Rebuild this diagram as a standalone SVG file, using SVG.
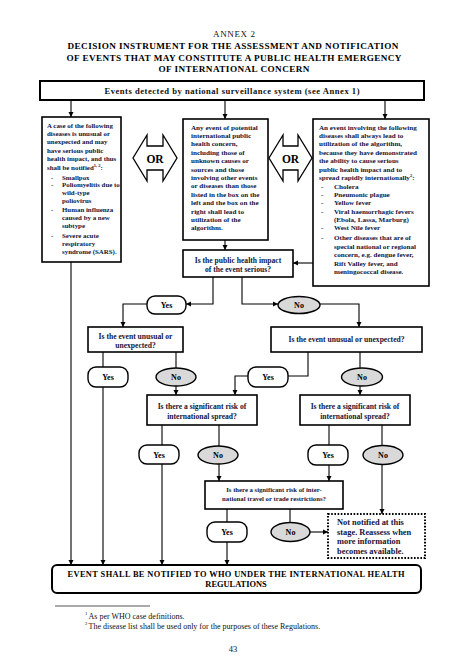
<svg xmlns="http://www.w3.org/2000/svg" width="466" height="666" viewBox="0 0 466 666">
<style>
text{font-family:"Liberation Serif","Times New Roman",serif;fill:#111}
.b{font-weight:bold}
.t{font-size:9.2px;font-weight:bold;text-anchor:middle;fill:#000}
.bx{font-size:7.1px;font-weight:bold;fill:#14143a}
.bl{font-size:6.9px}
.q{font-size:7.6px;font-weight:bold;text-anchor:middle;fill:#14143a}
.yn{font-size:8px;font-weight:bold;text-anchor:middle;fill:#000}
.box{fill:#fff;stroke:#000;stroke-width:1.6}
.pill{fill:#fff;stroke:#000;stroke-width:1.4}
.no{fill:#d9d9d9;stroke:#000;stroke-width:1.4}
.c{fill:none;stroke:#000;stroke-width:1.1}
.a{marker-end:url(#ah)}
</style>
<defs>
<marker id="ah" markerWidth="6" markerHeight="6" refX="5" refY="3" orient="auto" markerUnits="userSpaceOnUse">
<path d="M0,0.5 L5,3 L0,5.5 Z" fill="#000"/>
</marker>
</defs>
<rect width="466" height="666" fill="#fff"/>

<g id="title">
<text x="234" y="37" text-anchor="middle" style="font-size:9px" textLength="42">ANNEX 2</text>
<text x="233" y="49" class="t" textLength="331">DECISION INSTRUMENT FOR THE ASSESSMENT AND NOTIFICATION</text>
<text x="234" y="61" class="t" textLength="335">OF EVENTS THAT MAY CONSTITUTE A PUBLIC HEALTH EMERGENCY</text>
<text x="234" y="72" class="t" textLength="151">OF INTERNATIONAL CONCERN</text>
</g>

<g id="connectors">
<path class="c a" d="M71,100 V117"/>
<path class="c a" d="M225,100 V119"/>
<path class="c a" d="M385,100 V119"/>
<path class="c a" d="M71,262 V565"/>
<path class="c a" d="M225,240 V250"/>
<path class="c a" d="M313,263 H293"/>
<path class="c a" d="M213,277 V304 H186"/>
<path class="c a" d="M242,277 V304 H278"/>
<path class="c a" d="M147,304 H123 V327"/>
<path class="c a" d="M320,304 H359 V327"/>
<path class="c" d="M103,352 V367"/>
<path class="c a" d="M103,387 V565"/>
<path class="c" d="M176,352 V368"/>
<path class="c a" d="M176,386 V395"/>
<path class="c" d="M308,352 V376 H288"/>
<path class="c a" d="M248,376 H235 V395"/>
<path class="c" d="M360,352 V369"/>
<path class="c a" d="M360,386 V395"/>
<path class="c" d="M162,425 V445"/>
<path class="c a" d="M162,464 V565"/>
<path class="c" d="M219,425 V446"/>
<path class="c a" d="M219,464 V481"/>
<path class="c" d="M329,425 V445"/>
<path class="c a" d="M329,465 V481"/>
<path class="c" d="M382,425 V446"/>
<path class="c a" d="M382,464 V514"/>
<path class="c" d="M227,509 V522"/>
<path class="c a" d="M227,542 V565"/>
<path class="c" d="M290,509 V523"/>
<path class="c a" d="M310,532 H328"/>
</g>

<g id="top-box">
<rect x="40" y="81" width="384" height="19" fill="#fff" stroke="#000" stroke-width="2"/>
<text x="232" y="93.5" class="b" text-anchor="middle" style="font-size:8.6px" textLength="255">Events detected by national surveillance system (see Annex 1)</text>
</g>

<g id="left-box">
<rect x="42" y="117" width="79" height="145" class="box"/>
<text class="bx bl">
<tspan x="47" y="127.5">A case of the following</tspan>
<tspan x="47" y="136">diseases is unusual or</tspan>
<tspan x="47" y="144.3">unexpected and may</tspan>
<tspan x="47" y="152.6">have serious public</tspan>
<tspan x="47" y="160.9">health impact, and thus</tspan>
<tspan x="47" y="169.5">shall be notified</tspan><tspan font-size="4.5" dy="-3">1, 2</tspan><tspan dy="3">:</tspan>
</text>
<text class="bx bl">
<tspan x="51" y="179.5">-</tspan><tspan x="62" y="179.5">Smallpox</tspan>
<tspan x="51" y="186.8">-</tspan><tspan x="62" y="186.8">Poliomyelitis due to</tspan>
<tspan x="62" y="194.8">wild-type</tspan>
<tspan x="62" y="202.8">poliovirus</tspan>
<tspan x="51" y="211.6">-</tspan><tspan x="62" y="211.6">Human influenza</tspan>
<tspan x="62" y="219.6">caused by a new</tspan>
<tspan x="62" y="227.6">subtype</tspan>
<tspan x="51" y="237.6">-</tspan><tspan x="62" y="237.6">Severe acute</tspan>
<tspan x="62" y="245.6">respiratory</tspan>
<tspan x="62" y="254.4">syndrome (SARS).</tspan>
</text>
</g>

<g id="or-left">
<path d="M133,158 L147,135 L147,146 L163,146 L163,135 L177,158 L163,181 L163,170 L147,170 L147,181 Z" fill="#fff" stroke="#000" stroke-width="1.3"/>
<text x="155" y="162.5" class="b" text-anchor="middle" style="font-size:11.5px;fill:#000">OR</text>
</g>

<g id="center-box">
<rect x="183" y="119" width="85" height="121" class="box"/>
<text class="bx">
<tspan x="191" y="129.5">Any event of potential</tspan>
<tspan x="191" y="138">international public</tspan>
<tspan x="191" y="146.4">health concern,</tspan>
<tspan x="191" y="154.8">including those of</tspan>
<tspan x="191" y="163.2">unknown causes or</tspan>
<tspan x="191" y="171.6">sources and those</tspan>
<tspan x="191" y="180">involving other events</tspan>
<tspan x="191" y="188.4">or diseases than those</tspan>
<tspan x="191" y="196.8">listed in the box on the</tspan>
<tspan x="191" y="205.2">left and the box on the</tspan>
<tspan x="191" y="213.6">right shall lead to</tspan>
<tspan x="191" y="222">utilization of the</tspan>
<tspan x="191" y="230.4">algorithm.</tspan>
</text>
</g>

<g id="or-right">
<path d="M269,158 L283,135 L283,146 L298,146 L298,135 L312,158 L298,181 L298,170 L283,170 L283,181 Z" fill="#fff" stroke="#000" stroke-width="1.3"/>
<text x="290.5" y="162.5" class="b" text-anchor="middle" style="font-size:11.5px;fill:#000">OR</text>
</g>

<g id="right-box">
<rect x="313" y="119" width="116" height="167" class="box"/>
<text class="bx">
<tspan x="319" y="129.5">An event involving the following</tspan>
<tspan x="319" y="138">diseases shall always lead to</tspan>
<tspan x="319" y="146.4">utilization of the algorithm,</tspan>
<tspan x="319" y="154.8">because they have demonstrated</tspan>
<tspan x="319" y="163.2">the ability to cause serious</tspan>
<tspan x="319" y="171.6">public health impact and to</tspan>
<tspan x="319" y="180">spread rapidly internationally</tspan><tspan font-size="4.5" dy="-3">2</tspan><tspan dy="3">:</tspan>
</text>
<text class="bx">
<tspan x="321" y="188.5">-</tspan><tspan x="334" y="188.5">Cholera</tspan>
<tspan x="321" y="196.8">-</tspan><tspan x="334" y="196.8">Pneumonic plague</tspan>
<tspan x="321" y="205.2">-</tspan><tspan x="334" y="205.2">Yellow fever</tspan>
<tspan x="321" y="213.6">-</tspan><tspan x="334" y="213.6">Viral haemorrhagic fevers</tspan>
<tspan x="334" y="222">(Ebola, Lassa, Marburg)</tspan>
<tspan x="321" y="230.4">-</tspan><tspan x="334" y="230.4">West Nile fever</tspan>
<tspan x="321" y="240.4">-</tspan><tspan x="334" y="240.4">Other diseases that are of</tspan>
<tspan x="334" y="248.8">special national or regional</tspan>
<tspan x="334" y="257.2">concern, e.g. dengue fever,</tspan>
<tspan x="334" y="265.6">Rift Valley fever, and</tspan>
<tspan x="334" y="274.4">meningococcal disease.</tspan>
</text>
</g>

<g id="q-serious">
<rect x="183" y="250" width="110" height="27" class="box"/>
<text class="q"><tspan x="238" y="262.5">Is the public health impact</tspan><tspan x="238" y="271.5">of the event serious?</tspan></text>
</g>

<g id="yes-1">
<rect x="147" y="296" width="39" height="18" rx="8" class="pill"/>
<text x="166.5" y="308" class="yn">Yes</text>
</g>
<g id="no-1">
<ellipse cx="299" cy="305" rx="21" ry="8.5" class="no"/>
<text x="299" y="308" class="yn">No</text>
</g>

<g id="q-unusual-left">
<rect x="88" y="327" width="95" height="25" class="box"/>
<text class="q"><tspan x="135.5" y="339">Is the event unusual or</tspan><tspan x="135.5" y="348">unexpected?</tspan></text>
</g>
<g id="q-unusual-right">
<rect x="271" y="327" width="151" height="25" class="box"/>
<text x="346.5" y="342" class="q">Is the event unusual or unexpected?</text>
</g>

<g id="yes-2a">
<rect x="88" y="367" width="40" height="20" rx="8" class="pill"/>
<text x="108" y="380" class="yn">Yes</text>
</g>
<g id="no-2a">
<ellipse cx="176" cy="377" rx="20" ry="9" class="no"/>
<text x="176" y="380" class="yn">No</text>
</g>
<g id="yes-2b">
<rect x="248" y="367" width="40" height="20" rx="8" class="pill"/>
<text x="268" y="380" class="yn">Yes</text>
</g>
<g id="no-2b">
<ellipse cx="362" cy="377" rx="20.5" ry="9" class="no"/>
<text x="362" y="380" class="yn">No</text>
</g>

<g id="q-spread-left">
<rect x="147" y="395" width="110" height="30" class="box"/>
<text class="q"><tspan x="202" y="408.5">Is there a significant risk of</tspan><tspan x="202" y="418.5">international spread?</tspan></text>
</g>
<g id="q-spread-right">
<rect x="300" y="395" width="110" height="30" class="box"/>
<text class="q"><tspan x="355" y="408.5">Is there a significant risk of</tspan><tspan x="355" y="418.5">international spread?</tspan></text>
</g>

<g id="yes-3a">
<rect x="139" y="445" width="40" height="19" rx="8" class="pill"/>
<text x="159" y="457.5" class="yn">Yes</text>
</g>
<g id="no-3a">
<ellipse cx="218" cy="455" rx="20" ry="9" class="no"/>
<text x="218" y="458" class="yn">No</text>
</g>
<g id="yes-3b">
<rect x="308" y="445" width="40" height="20" rx="8" class="pill"/>
<text x="328" y="458" class="yn">Yes</text>
</g>
<g id="no-3b">
<ellipse cx="383" cy="455" rx="20" ry="9.5" class="no"/>
<text x="383" y="458" class="yn">No</text>
</g>

<g id="q-travel">
<rect x="205" y="481" width="138" height="28" class="box"/>
<text class="q" style="font-size:6.7px"><tspan x="274" y="492">Is there a significant risk of inter-</tspan><tspan x="274" y="501">national travel or trade restrictions?</tspan></text>
</g>

<g id="yes-4">
<rect x="207" y="522" width="40" height="20" rx="8" class="pill"/>
<text x="227" y="535" class="yn">Yes</text>
</g>
<g id="no-4">
<ellipse cx="290.5" cy="532" rx="19.5" ry="9.5" class="no"/>
<text x="290.5" y="535" class="yn">No</text>
</g>

<g id="not-notified">
<rect x="328" y="514" width="97" height="44" fill="#fff" stroke="#000" stroke-width="2" stroke-dasharray="1.6,1.6"/>
<text class="b" style="font-size:8.4px;fill:#14143a"><tspan x="337" y="525">Not notified at this</tspan><tspan x="337" y="534.5">stage. Reassess when</tspan><tspan x="337" y="544">more information</tspan><tspan x="337" y="553.5">becomes available.</tspan></text>
</g>

<g id="notify-box">
<rect x="52" y="565" width="369" height="28" rx="5" fill="#fff" stroke="#000" stroke-width="2"/>
<text class="b" text-anchor="middle" style="font-size:8.4px;fill:#000"><tspan x="236" y="576.5" textLength="337">EVENT SHALL BE NOTIFIED TO WHO UNDER THE INTERNATIONAL HEALTH</tspan><tspan x="236" y="587">REGULATIONS</tspan></text>
</g>

<g id="footnotes">
<line x1="55" y1="606" x2="150" y2="606" stroke="#555" stroke-width="1"/>
<text style="font-size:4.8px" x="85" y="615">1</text>
<text style="font-size:8px" x="88.5" y="619">As per WHO case definitions.</text>
<text style="font-size:4.8px" x="85" y="624.5">2</text>
<text style="font-size:8px" x="88.5" y="628.5">The disease list shall be used only for the purposes of these Regulations.</text>
<text style="font-size:8.5px" x="233" y="652" text-anchor="middle">43</text>
</g>
</svg>
